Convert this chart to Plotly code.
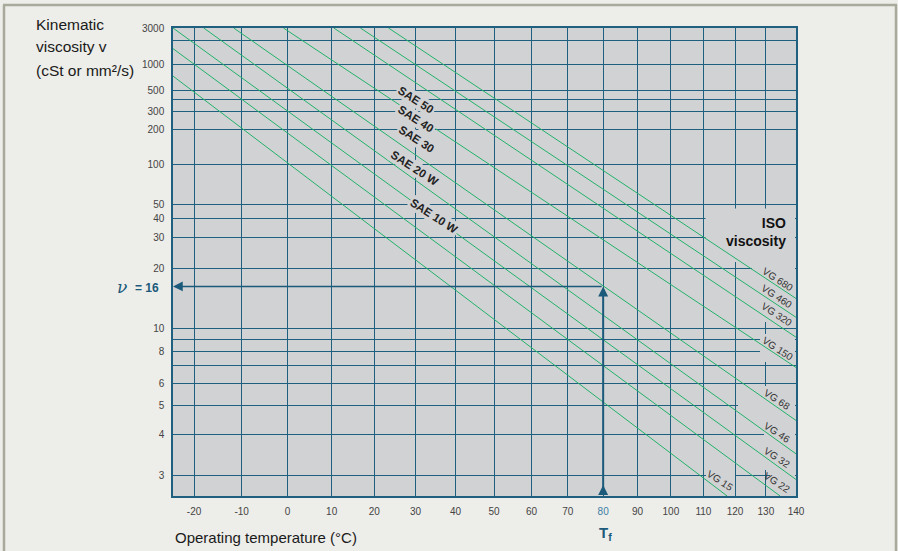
import numpy as np
import plotly.graph_objects as go

# ISO VG lines: end points (temperature in °C, viscosity in cSt)
vg_names = ["VG 15", "VG 22", "VG 32", "VG 46", "VG 68", "VG 150", "VG 320", "VG 460", "VG 680"]
t_start = [-24.3, -24.3, -24.3, -18.0, -11.7, -0.9, 10.5, 16.7, 23.4]
v_start = [728, 1580, 3000, 3000, 3000, 3000, 3000, 3000, 3000]
t_end = [117.5, 134.7, 140, 140, 140, 140, 140, 140, 140]
v_end = [2.64, 2.64, 2.93, 3.48, 4.44, 6.9, 9.2, 11.3, 13.9]

sae_names = ["SAE 50", "SAE 40", "SAE 30", "SAE 20 W", "SAE 10 W"]

x_ticks = list(range(-20, 141, 10))
y_ticks = [3000, 1000, 500, 300, 200, 100, 50, 40, 30, 20, 10, 8, 6, 5, 4, 3]
y_minor = [2000, 400, 9, 7]
t_range = [-24.3, 140]
v_range = [2.64, 3000]

t_example = 80
v_example = 16


# chart scales: log of absolute temperature / Walther log-log of viscosity
def tx(t):
    return np.log10(np.asarray(t, dtype=float) + 273.15)


def vy(v):
    return np.log10(np.log10(np.asarray(v, dtype=float) + 0.7))


# pixel -> paper helpers for the text placement
L, R, T, B = 173, 796, 28, 496


def px(x):
    return (x - L) / (R - L)


def py(y):
    return (B - y) / (B - T)


X0, X1 = tx(t_range)
Y0, Y1 = vy(v_range)

GRID = "#1f5f7f"
GREEN = "#22b26a"
PLOTBG = "#d1d2d4"
PAPER = "#ededE9"
DARK = "#1b5a7a"
FONT = "Liberation Sans"

fig = go.Figure()

for name, t0, v0, t1, v1 in zip(vg_names, t_start, v_start, t_end, v_end):
    fig.add_trace(go.Scatter(
        x=tx([t0, t1]), y=vy([v0, v1]), mode="lines", name=name,
        line=dict(color=GREEN, width=1), hoverinfo="name",
    ))

ticktext_x = [
    "<span style='color:#3d7fa6'>%d</span>" % t if t == t_example else str(t)
    for t in x_ticks
]

fig.update_xaxes(
    range=[X0, X1], tickvals=tx(x_ticks), ticktext=ticktext_x,
    showgrid=True, gridcolor=GRID, gridwidth=1, zeroline=False,
    showline=True, mirror=True, linecolor=GRID, linewidth=1.5,
    ticks="", ticklabelstandoff=5,
    tickfont=dict(family=FONT, size=10, color="#444"),
)
fig.update_yaxes(
    range=[Y0, Y1], tickvals=vy(y_ticks), ticktext=[str(v) for v in y_ticks],
    showgrid=True, gridcolor=GRID, gridwidth=1, zeroline=False,
    minor=dict(tickvals=vy(y_minor), showgrid=True, gridcolor=GRID, gridwidth=1, ticks=""),
    showline=True, mirror=True, linecolor=GRID, linewidth=1.5,
    ticks="", ticklabelstandoff=5,
    tickfont=dict(family=FONT, size=10, color="#444"),
)


def label(x, y, text, xanchor="center", **kw):
    return dict(x=px(x), y=py(y), xref="paper", yref="paper", text=text,
                showarrow=False, xanchor=xanchor, yanchor="middle", **kw)


ann = []
# VG labels
vg_pos = [(720, 480), (777, 482), (777, 457), (777, 432), (777, 399),
          (777.5, 348), (777, 314), (777, 296), (778, 279)]
for name, (x, y) in zip(vg_names, vg_pos):
    ann.append(label(x, y, name, textangle=33,
                     font=dict(family=FONT, size=10, color="#333")))

# SAE labels
sae_pos = [(416, 100), (416, 119), (416.5, 138.5), (414.5, 167.5), (434, 216)]
for name, (x, y) in zip(sae_names, sae_pos):
    ann.append(label(x, y, "<b>%s</b>" % name, textangle=33, bgcolor=PLOTBG, borderpad=1,
                     font=dict(family=FONT, size=11.5, color="#222")))

ann.append(label(788, 232, "<b>ISO<br>viscosity</b>", xanchor="right", align="right",
                 font=dict(family=FONT, size=14, color="#111")))

for txt, y in [("Kinematic", 24), ("viscosity v", 47), ("(cSt or mm²/s)", 70)]:
    ann.append(label(34, y, txt, xanchor="left",
                     font=dict(family=FONT, size=15.5, color="#1a1a1a")))

ann.append(label(173, 537, "Operating temperature (°C)", xanchor="left",
                 font=dict(family=FONT, size=15, color="#1a1a1a")))

ann.append(label(605, 533, "<b>T<sub>f</sub></b>",
                 font=dict(family=FONT, size=15, color=DARK)))

ann.append(label(129, 287, "<i>ν</i>", xanchor="right",
                 font=dict(family="DejaVu Serif", size=17, color=DARK)))
ann.append(label(133, 288, "<b>= 16</b>", xanchor="left",
                 font=dict(family=FONT, size=12, color=DARK)))

# example arrows: viscosity 16 at 80 °C
ann.append(dict(x=X0, y=vy(v_example), xref="x", yref="y",
                ax=tx(t_example), ay=vy(v_example), axref="x", ayref="y",
                showarrow=True, arrowhead=2, arrowsize=1.3, arrowwidth=1.5,
                arrowcolor=DARK, standoff=0, text=""))
ann.append(dict(x=tx(t_example), y=vy(v_example), xref="x", yref="y",
                ax=tx(t_example), ay=Y0, axref="x", ayref="y",
                showarrow=True, arrowhead=2, arrowsize=1.0, arrowwidth=2,
                arrowcolor=DARK, standoff=0, text=""))
ann.append(dict(x=tx(t_example), y=py(485), xref="x", yref="paper",
                ax=0, ay=11, showarrow=True, arrowhead=2, arrowsize=1.0,
                arrowwidth=2, arrowcolor=DARK, standoff=0, text=""))


def mask(x0, x1, y0, y1):
    # hides grid lines (drawn above grid, below the green lines)
    return dict(type="rect", xref="x", yref="y", layer="between",
                x0=X0 + px(x0) * (X1 - X0), x1=X0 + px(x1) * (X1 - X0),
                y0=Y0 + py(y0) * (Y1 - Y0), y1=Y0 + py(y1) * (Y1 - Y0),
                fillcolor=PLOTBG, line=dict(width=0))


shapes = [
    mask(705.5, 795, 208.5, 262),   # ISO viscosity box
    mask(752, 795, 262, 322),       # VG 680 / 460 / 320
    mask(760, 795, 334, 362),       # VG 150
    mask(738, 795, 386, 418),       # VG 68
    mask(764, 795, 418, 470),       # VG 46 / 32
    mask(770, 795, 466, 495),       # VG 22
    mask(706, 735, 466, 495),       # VG 15
    # outer frame
    dict(type="line", xref="paper", yref="paper", x0=px(3), x1=px(897), y0=py(5), y1=py(5),
         line=dict(color="#a9aa9c", width=2.5)),
    dict(type="line", xref="paper", yref="paper", x0=px(4), x1=px(4), y0=py(5), y1=py(551),
         line=dict(color="#a9aa9c", width=2.5)),
    dict(type="line", xref="paper", yref="paper", x0=px(896), x1=px(896), y0=py(5), y1=py(551),
         line=dict(color="#a9aa9c", width=2.5)),
]

fig.update_layout(
    width=898, height=551,
    margin=dict(l=L, r=898 - R, t=T, b=551 - B),
    paper_bgcolor=PAPER, plot_bgcolor=PLOTBG,
    showlegend=False, annotations=ann, shapes=shapes,
    font=dict(family=FONT),
)

# the page's default body margin would shift the figure by 8 px
fig.write_html(
    "out.html",
    config={"displayModeBar": False},
    post_script="document.body.style.margin='0';document.body.style.overflow='hidden';",
)
